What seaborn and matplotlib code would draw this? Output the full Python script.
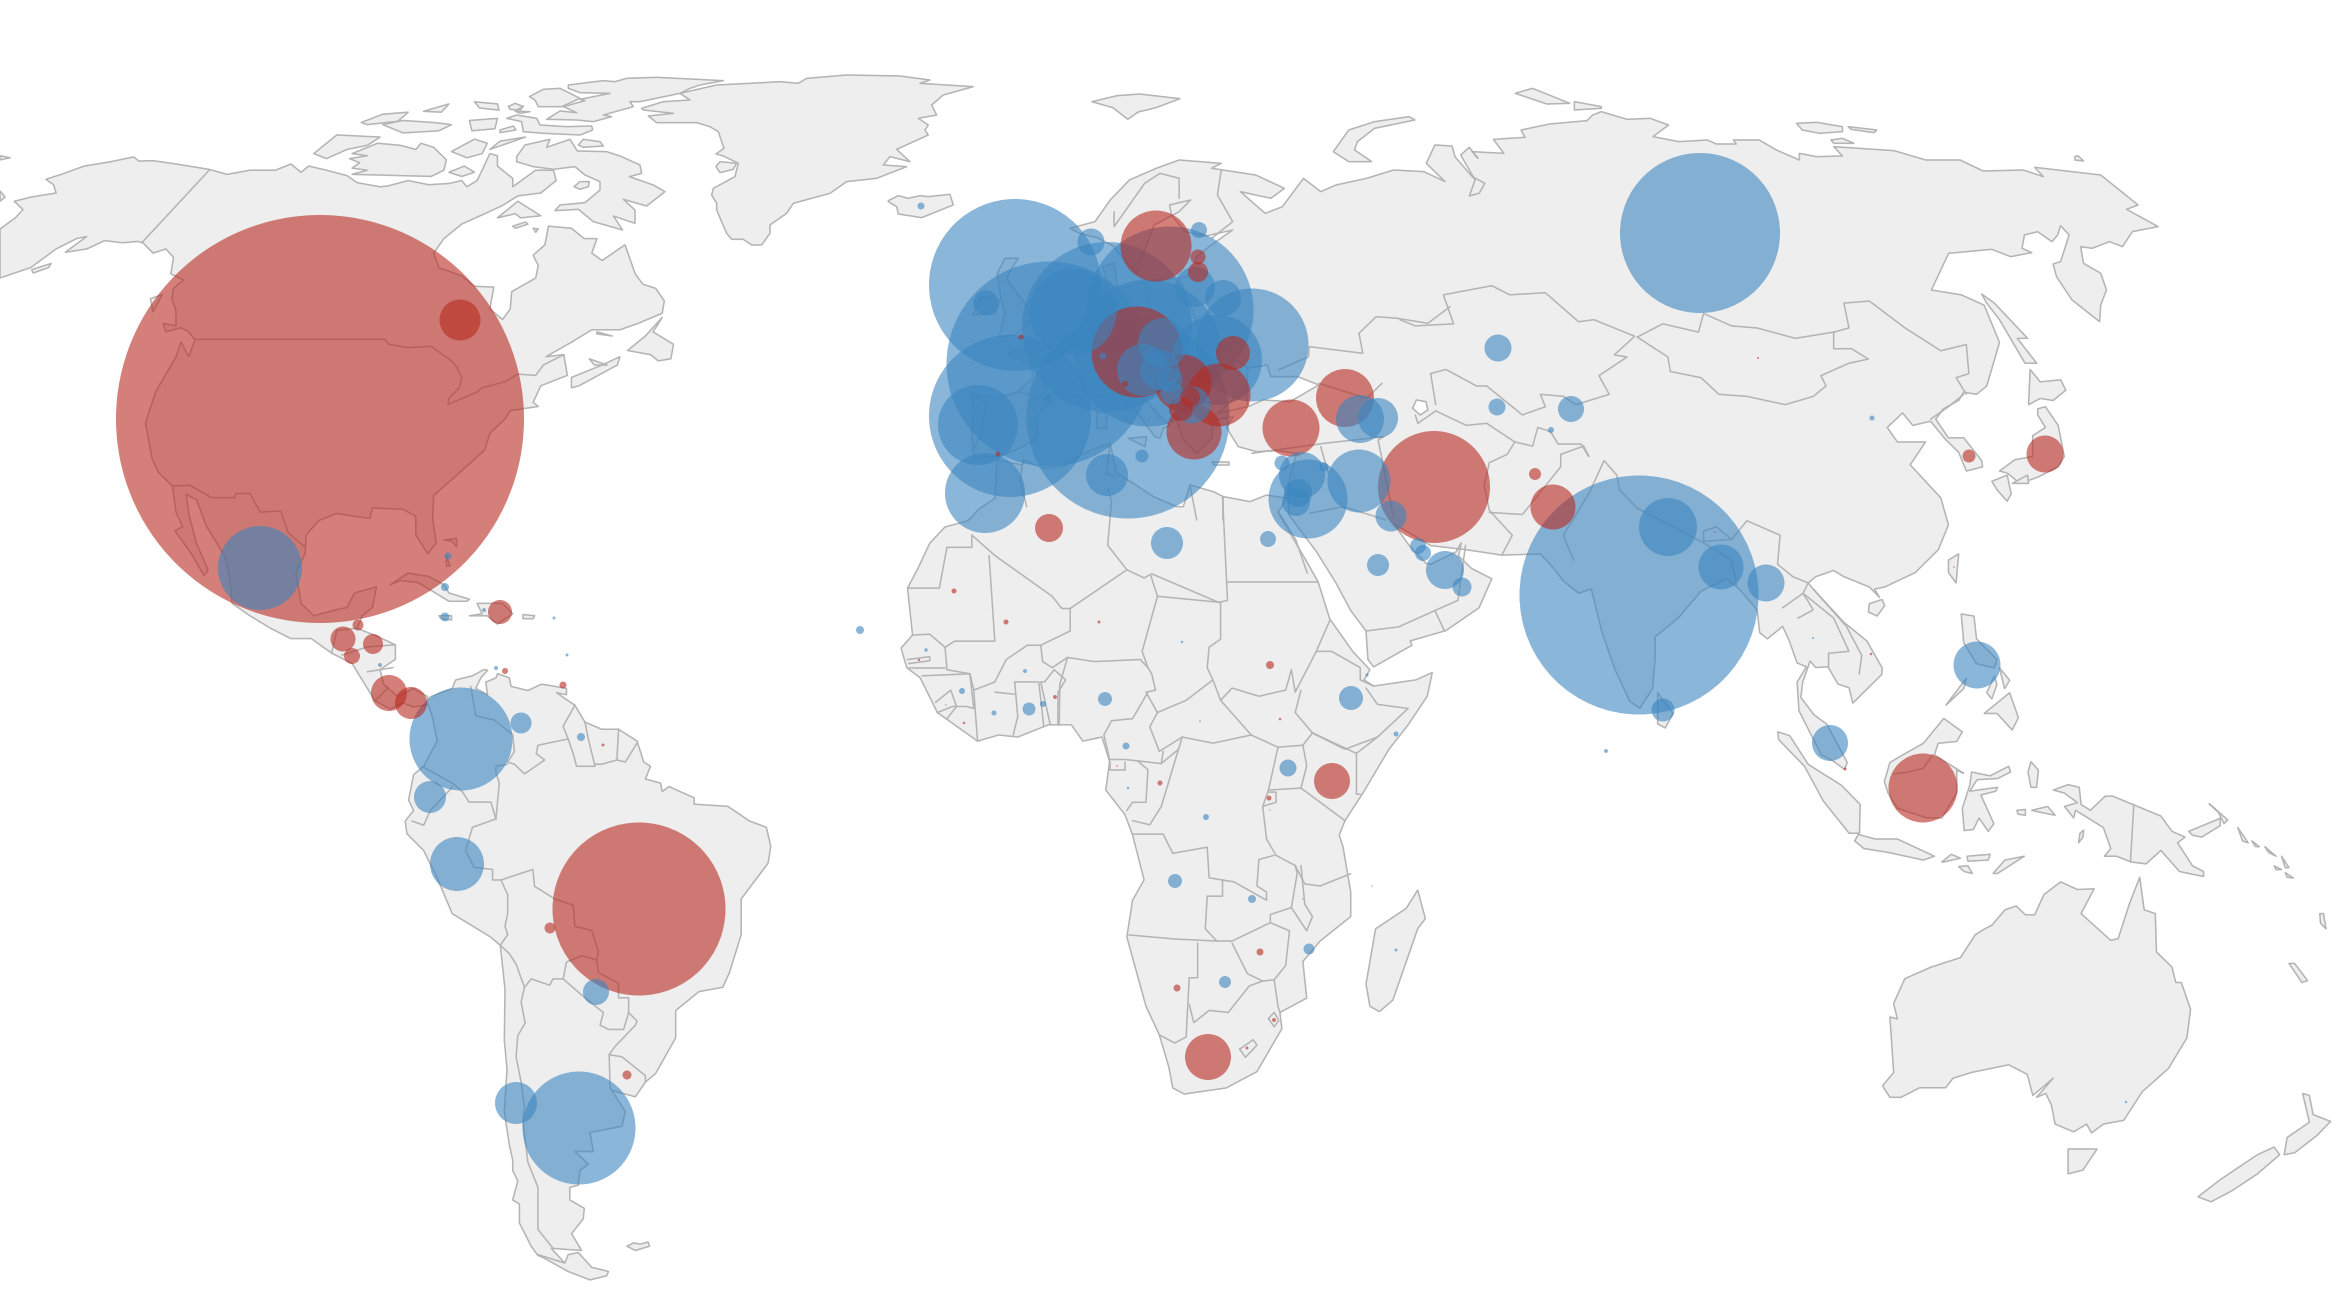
import numpy as np
import pandas as pd
import matplotlib
matplotlib.use('Agg')
import matplotlib.pyplot as plt
import seaborn as sns

# --- bubbles: map x, map y, bubble diameter ---
red_x = [320, 639, 1434, 1923, 1137, 1156, 1291, 1345, 1219, 1183, 1194, 1233, 1553, 2045, 1208, 1049, 1332, 460,
         500, 343, 373, 352, 358, 389, 411, 1181, 1190, 1198, 1198, 550, 627, 1535, 1969, 1270, 505, 563, 954, 1006,
         1099, 919, 1055, 964, 1200, 1280, 1160, 1117, 1269, 1260, 1177, 1274, 1247, 1845, 1871, 1758, 1954, 1715,
         603, 1021, 998, 1125]
red_y = [419, 909, 487, 788, 352, 246, 428, 398, 395, 383, 432, 353, 507, 454, 1057, 528, 781, 320,
         612, 639, 644, 656, 625, 693, 703, 409, 397, 257, 272, 928, 1075, 474, 456, 665, 671, 685, 591, 622,
         622, 660, 697, 723, 721, 719, 783, 766, 798, 952, 988, 1020, 1048, 769, 654, 358, 567, 532,
         745, 337, 454, 384]
red_d = [408, 173, 112, 69, 91, 71, 57, 58, 63, 57, 55, 34, 45, 37, 46, 28, 36, 41,
         24, 25, 20, 16, 11, 36, 32, 24, 20, 15, 20, 11, 9, 12, 13, 8, 6, 7, 5, 5,
         3, 2.5, 4, 2.5, 1.5, 2.5, 5, 1.5, 5, 7, 7, 4, 3, 3, 2.5, 2, 1.5, 1.5,
         3, 5, 5, 6]

blue_x = [1639, 1700, 579, 461, 457, 430, 521, 516, 596, 260, 1015, 1049, 1010, 1128, 1107, 1073, 1170, 1148, 1217,
          1252, 1223, 1195, 1091, 1199, 1163, 1143, 1160, 1192, 1172, 1170, 1103, 978, 985, 986, 921, 1107, 1142,
          1167, 1048, 1308, 1302, 1298, 1296, 1282, 1324, 1359, 1360, 1378, 1391, 1378, 1418, 1423, 1445, 1462,
          1268, 1351, 1288, 1668, 1721, 1766, 1663, 1977, 1830, 1498, 1497, 1571, 1551, 1872, 860, 448, 445, 445,
          484, 554, 380, 496, 567, 581, 926, 962, 1025, 1029, 1043, 994, 946, 1105, 1182, 1126, 1128, 1206, 1270,
          1175, 1252, 1303, 1309, 1225, 1396, 1372, 1396, 1367, 2126, 1813, 1606]
blue_y = [595, 233, 1128, 739, 864, 797, 723, 1103, 992, 568, 285, 364, 416, 417, 327, 312, 310, 353, 360,
          345, 298, 287, 242, 230, 343, 370, 370, 405, 393, 380, 356, 425, 493, 303, 206, 475, 456,
          543, 398, 499, 475, 493, 502, 463, 467, 481, 419, 418, 516, 565, 546, 553, 570, 587,
          539, 698, 768, 527, 567, 583, 710, 665, 743, 348, 407, 409, 430, 418, 630, 556, 587, 617,
          610, 618, 665, 668, 655, 737, 650, 691, 671, 709, 704, 713, 705, 699, 642, 746, 788, 817, 810,
          881, 899, 899, 949, 982, 950, 886, 734, 675, 1102, 638, 751]
blue_d = [239, 160, 113, 103, 54, 32, 21, 42, 26, 84, 172, 205, 162, 203, 170, 87, 167, 147, 90,
          113, 36, 40, 27, 16, 50, 52, 40, 37, 23, 25, 7, 80, 80, 25, 7, 42, 13,
          32, 8, 79, 46, 28, 28, 15, 9, 63, 48, 40, 31, 22, 16, 16, 38, 19,
          16, 24, 17, 58, 45, 37, 23, 47, 36, 27, 17, 26, 6, 5, 8, 7, 8, 9,
          4, 3, 4, 4, 3, 8, 3.5, 6, 4, 13, 6, 5, 1.5, 14, 2.5, 7, 2.5, 6, 1.5,
          14, 8, 1.5, 11, 12, 3, 1.5, 5, 3, 2.5, 2, 4]

# --- land outlines, traced region by region (origin x, origin y, x step, y step) ---
regions = {
    'na': (0, 50, 0.5102, 0.4145),
    'eu': (850, 150, 0.3827, 0.3333),
    'as': (1400, 100, 0.5102, 0.4145),
    'sa': (380, 640, 0.336, 0.421),
    'af': (880, 480, 0.3827, 0.408),
    'oc': (1760, 640, 0.3712, 0.3827),
    'med': (1000, 220, 0.3333, 0.3333),
    'gr': (500, 50, 0.3333, 0.3333),
    'ru': (1300, 60, 0.574, 0.3333),
}

north_america = [(0, 432), (30, 405), (45, 385), (28, 365), (60, 355), (110, 345), (105, 325), (90, 312), (125, 298),
    (165, 280), (215, 270), (262, 258), (272, 268), (300, 267), (345, 275), (410, 288), (445, 300), (490, 290),
    (540, 290), (570, 275), (590, 295), (605, 280), (640, 290), (680, 303), (700, 320), (745, 330), (760, 328),
    (800, 315), (840, 325), (880, 322), (905, 315), (915, 330), (935, 315), (945, 290), (960, 250), (975, 255),
    (975, 280), (990, 295), (1005, 310), (1005, 330), (1050, 290), (1085, 290), (1090, 315), (1060, 345),
    (1015, 352), (985, 375), (950, 395), (905, 420), (870, 455), (850, 490), (860, 525), (905, 545), (930, 570),
    (968, 572), (960, 625), (985, 650), (1000, 625), (1003, 583), (1050, 550), (1055, 520), (1045, 495), (1068, 470),
    (1075, 425), (1120, 430), (1145, 455), (1170, 455), (1160, 490), (1180, 508), (1225, 470), (1245, 540),
    (1260, 565), (1285, 575), (1302, 605), (1298, 635), (1250, 660), (1215, 675), (1160, 675), (1120, 705),
    (1070, 740), (1105, 735), (1112, 785), (1060, 810), (1045, 850), (1055, 860), (1000, 870), (990, 890), (960, 925),
    (950, 965), (905, 1015), (850, 1075), (848, 1130), (855, 1190), (838, 1215), (815, 1170), (815, 1125), (790, 1108),
    (730, 1105), (725, 1130), (695, 1125), (660, 1118), (625, 1135), (600, 1170), (598, 1215), (580, 1260), (590, 1335),
    (615, 1365), (660, 1350), (680, 1345), (695, 1310), (738, 1295), (730, 1345), (710, 1365), (700, 1395), (740, 1415),
    (775, 1435), (775, 1470), (745, 1495), (752, 1530), (780, 1560), (810, 1540), (838, 1560), (837, 1580), (810, 1585),
    (790, 1575), (765, 1590), (735, 1570), (715, 1530), (690, 1480), (650, 1455), (610, 1420), (570, 1420), (530, 1395),
    (490, 1365), (455, 1335), (450, 1270), (440, 1220), (405, 1150), (385, 1085), (365, 1072), (370, 1120), (385, 1190),
    (408, 1255), (400, 1268), (375, 1215), (343, 1160), (358, 1150), (345, 1115), (338, 1052), (310, 1018), (298, 985),
    (285, 900), (305, 825), (345, 740), (355, 705), (370, 740), (382, 700), (370, 680), (355, 670), (325, 680), (320, 660),
    (345, 665), (345, 630), (337, 600), (340, 575), (360, 555), (335, 540), (340, 500), (325, 480), (300, 490), (280, 465),
    (270, 462), (240, 465), (205, 460), (170, 480), (128, 488), (170, 450), (150, 455), (110, 480), (60, 525), (0, 550)]

na_islands = [
    [(295, 600), (318, 590), (300, 632)],
    [(62, 530), (100, 515), (95, 525), (65, 538)],
    [(0, 255), (20, 260), (0, 265)],
    [(0, 340), (10, 355), (0, 365)],
    [(1230, 725), (1265, 690), (1298, 645), (1280, 680), (1320, 710), (1315, 745), (1290, 750), (1275, 735)],
    [(1170, 685), (1200, 690), (1170, 680)],
    [(1120, 815), (1135, 810), (1210, 760), (1215, 740), (1180, 760), (1120, 790)],
    [(1155, 745), (1190, 760), (1165, 760)],
    [(765, 1290), (800, 1262), (840, 1270), (870, 1290), (880, 1310), (920, 1325), (915, 1330), (880, 1330), (860, 1315), (820, 1285), (785, 1280)],
    [(920, 1365), (945, 1360), (935, 1335), (985, 1335), (1005, 1360), (975, 1385), (955, 1365)],
    [(860, 1365), (885, 1365), (885, 1375), (865, 1372)],
    [(1025, 1362), (1048, 1365), (1045, 1372), (1025, 1372)],
    [(870, 1182), (895, 1178), (895, 1198), (885, 1185)],
    [(875, 1220), (882, 1245), (875, 1245)],
    [(1005, 425), (1030, 415), (1035, 420), (1010, 430)],
    [(1045, 430), (1055, 432), (1050, 440)],
    [(975, 405), (1015, 365), (1060, 400), (1020, 405), (1010, 395)],
    [(708, 175), (750, 155), (800, 150), (780, 172), (720, 180)],
    [(750, 180), (790, 170), (850, 175), (885, 180), (860, 195), (790, 200)],
    [(830, 148), (880, 130), (865, 150)],
    [(930, 125), (975, 130), (978, 145), (940, 140)],
    [(920, 170), (975, 165), (970, 190), (925, 195)],
    [(1000, 135), (1025, 135), (1020, 145)],
    [(615, 250), (660, 205), (745, 210), (720, 230), (680, 240), (640, 262)],
    [(690, 250), (740, 225), (785, 230), (815, 240), (825, 225), (850, 235), (875, 265), (870, 290), (845, 305), (690, 300), (720, 290), (690, 285), (705, 272), (685, 262), (720, 255)],
    [(885, 245), (930, 215), (955, 225), (945, 250), (915, 260)],
    [(880, 295), (910, 280), (930, 295), (905, 305)],
    [(960, 240), (1030, 210), (980, 220)],
]
gr_islands = [
    [(425, 175), (490, 155), (570, 150), (540, 130), (650, 105), (790, 98), (840, 95), (895, 100), (920, 85), (1040, 75), (1200, 78), (1290, 90), (1260, 100), (1420, 110), (1330, 135), (1295, 165), (1310, 195), (1255, 205), (1285, 225), (1275, 240), (1285, 255), (1230, 280), (1190, 298), (1230, 335), (1170, 320), (1150, 345), (1220, 350), (1130, 385), (1040, 395), (990, 430), (880, 460), (860, 490), (810, 525), (810, 550), (785, 585), (755, 585), (730, 568), (695, 568), (680, 550), (650, 480), (650, 460), (635, 435), (640, 415), (705, 380), (715, 340), (670, 318), (648, 312), (672, 295), (655, 245), (630, 230), (590, 218), (470, 218), (445, 198), (520, 190), (430, 180)],
    [(648, 350), (660, 335), (710, 340), (700, 358), (660, 368)],
    [(205, 105), (310, 92), (345, 95), (380, 85), (470, 82), (670, 92), (600, 105), (570, 115), (540, 130), (420, 155), (390, 155), (400, 170), (310, 195), (335, 200), (280, 215), (230, 210), (140, 208), (180, 183), (230, 188), (190, 170), (255, 152), (240, 148), (330, 130), (240, 128), (205, 115)],
    [(88, 140), (130, 118), (180, 115), (210, 130), (240, 145), (185, 170), (115, 170), (105, 150)],
    [(25, 170), (45, 160), (70, 170), (50, 180), (30, 178)],
    [(45, 183), (90, 185), (60, 190)],
    [(20, 205), (50, 195), (110, 205), (120, 225), (200, 230), (275, 228), (278, 240), (240, 255), (130, 250), (70, 245), (65, 215)],
    [(0, 240), (40, 228), (48, 240), (0, 248)],
    [(50, 320), (75, 285), (150, 268), (140, 292), (210, 268), (232, 303), (320, 305), (360, 318), (420, 345), (425, 370), (388, 380), (460, 405), (495, 425), (440, 468), (370, 448), (405, 480), (405, 520), (340, 498), (368, 540), (280, 515), (235, 478), (165, 482), (180, 465), (255, 458), (300, 420), (300, 395), (255, 375), (225, 350), (160, 358), (100, 350), (50, 335)],
    [(235, 285), (250, 268), (300, 275), (310, 288), (250, 292)],
    [(222, 410), (240, 395), (268, 395), (265, 410), (240, 418)],
    [(1165, 452), (1195, 437), (1225, 445), (1260, 437), (1285, 440), (1350, 433), (1360, 465), (1265, 503), (1195, 492), (1190, 470), (1165, 455)],
]

eurasia_eu = [(385, 920), (325, 925), (318, 860), (322, 790), (320, 730), (380, 745), (440, 725), (480, 680), (470, 640),
    (415, 610), (470, 590), (520, 600), (545, 565), (590, 540), (640, 490), (645, 430), (680, 420), (660, 350), (690, 340),
    (700, 420), (770, 395), (850, 385), (880, 380), (900, 345), (905, 320), (950, 280), (1000, 240), (930, 258), (875, 245),
    (840, 195), (835, 165), (890, 150), (860, 185), (795, 225), (770, 300), (750, 370), (720, 335), (690, 290), (650, 265),
    (600, 250), (575, 235), (640, 215), (680, 150), (730, 90), (800, 55), (860, 30), (970, 40), (945, 55), (1060, 75),
    (1135, 115), (1100, 145), (1020, 125), (1060, 165), (1085, 190), (1130, 170), (1185, 85), (1230, 125), (1270, 105),
    (1350, 85), (1420, 60), (1500, 65), (1555, 95)]
eurasia_ru = [(220, 310), (235, 255), (265, 258), (270, 290), (300, 350), (322, 370), (312, 400), (295, 408), (305, 360),
    (280, 285), (295, 262), (310, 295), (300, 275), (355, 280), (337, 238), (392, 232), (385, 210), (435, 192), (500, 182),
    (510, 165), (525, 155), (570, 178), (610, 175), (642, 195), (615, 230), (660, 245), (710, 240), (725, 252), (760, 252),
    (755, 240), (800, 240), (830, 270), (870, 300), (870, 280), (900, 290), (945, 288), (930, 260), (1035, 272), (1090, 300),
    (1150, 300), (1190, 333), (1260, 330), (1295, 350), (1280, 322), (1395, 345), (1460, 435), (1440, 448), (1495, 500),
    (1450, 515), (1433, 560), (1410, 545), (1380, 565), (1360, 560), (1365, 610), (1395, 640), (1405, 690), (1395, 735),
    (1393, 785), (1345, 720), (1318, 650), (1312, 612), (1325, 605), (1340, 525), (1325, 497), (1320, 525), (1310, 545),
    (1285, 515), (1262, 525), (1258, 565), (1275, 578), (1238, 590), (1205, 568), (1130, 580), (1100, 690)]
eurasia_as = [(1100, 470), (1145, 495), (1175, 585), (1150, 690), (1130, 710), (1105, 705), (1095, 725), (1065, 745),
    (1050, 770), (1075, 815), (1105, 815), (1140, 870), (1142, 885), (1110, 895), (1095, 850), (1070, 820), (1040, 775),
    (1005, 785), (985, 755), (955, 790), (975, 825), (1030, 825), (1000, 880), (1060, 960), (1075, 1025), (1055, 1085),
    (1010, 1140), (950, 1175), (930, 1180), (940, 1200), (920, 1175), (870, 1150), (850, 1135), (815, 1150), (800, 1165),
    (810, 1180), (870, 1260), (915, 1305), (945, 1370)]
eurasia_oc = [(328, 90), (250, 165), (240, 125), (210, 115), (183, 70), (150, 72), (135, 55), (115, 110), (110, 150),
    (145, 195), (180, 220), (235, 320), (228, 338), (195, 315), (165, 300), (105, 185), (100, 110), (125, 70), (100, 60), (78, 0)]
eurasia_as2 = [(750, 1270), (720, 1300), (705, 1285), (700, 1230), (665, 1180), (640, 1155), (590, 1185), (545, 1250),
    (500, 1295), (500, 1350), (495, 1420), (470, 1468), (450, 1450), (420, 1370), (395, 1280), (375, 1180), (350, 1190),
    (320, 1160), (298, 1125), (275, 1095), (200, 1098), (130, 1085), (60, 1075)]
eurasia_eu2 = [(1420, 1120), (1460, 1185), (1505, 1240)]
eurasia_as3 = [(60, 1120), (110, 1090), (120, 1068), (115, 1100), (140, 1130), (180, 1155), (155, 1225), (90, 1280), (20, 1305)]
eurasia_af = [(1390, 405), (1290, 458), (1275, 440), (1270, 370), (1230, 320), (1190, 250), (1140, 175), (1068, 85)]
eurasia_med = [(865, 830), (870, 770), (890, 700), (830, 692), (770, 695), (715, 680), (690, 640), (680, 620), (700, 590),
    (640, 600), (635, 655), (590, 700), (550, 660), (530, 600), (505, 555), (465, 510), (440, 505), (438, 540), (480, 590),
    (510, 615), (490, 625), (480, 655), (465, 650), (420, 590), (375, 540), (310, 525), (230, 530), (170, 535), (130, 560),
    (110, 600), (115, 650), (70, 680), (20, 700)]

africa_eu = [(385, 930), (450, 945)]
africa_med = [(70, 720), (130, 745), (190, 740), (250, 700), (330, 670), (350, 760), (400, 790), (460, 830), (530, 860),
    (550, 860), (570, 795), (640, 815), (670, 830), (750, 845), (800, 825), (860, 835)]
africa_af = [(1040, 80), (1115, 200), (1145, 250), (1175, 340), (1235, 420), (1280, 465), (1265, 490), (1290, 505),
    (1400, 490), (1443, 472), (1430, 530), (1380, 600), (1330, 660), (1260, 770), (1215, 835), (1200, 870), (1210, 900),
    (1230, 1010), (1230, 1070), (1150, 1130), (1105, 1180), (1115, 1270), (1045, 1305), (1050, 1345), (985, 1450),
    (905, 1490), (795, 1505), (765, 1490), (755, 1440), (730, 1360), (695, 1290), (645, 1120), (660, 1030), (690, 980),
    (660, 870), (640, 820), (590, 760), (600, 690), (580, 630), (530, 640), (500, 600), (440, 600), (360, 630), (310, 625),
    (255, 640), (210, 610), (150, 570), (105, 485), (70, 460), (55, 412), (85, 380), (72, 265), (100, 215), (130, 155),
    (170, 115), (230, 100), (260, 70), (300, 45)]
madagascar = [(1270, 1235), (1295, 1100), (1375, 1050), (1405, 1005), (1425, 1075), (1405, 1100), (1340, 1275), (1305, 1303), (1280, 1290)]

south_america = [(150, 135), (215, 115), (225, 95), (275, 85), (310, 70), (320, 72), (300, 90), (285, 115), (320, 130),
    (315, 100), (345, 90), (350, 80), (385, 90), (390, 110), (440, 120), (480, 105), (520, 110), (555, 115), (555, 130),
    (525, 125), (580, 155), (610, 195), (660, 212), (710, 212), (765, 240), (785, 290), (805, 300), (790, 330), (835, 340),
    (840, 360), (860, 348), (935, 375), (935, 390), (1035, 395), (1100, 430), (1150, 445), (1163, 490), (1155, 530),
    (1075, 615), (1075, 700), (1040, 790), (1020, 825), (950, 835), (880, 880), (880, 945), (820, 1030), (790, 1050),
    (760, 1085), (690, 1070), (730, 1120), (720, 1155), (625, 1170), (635, 1215), (580, 1215), (620, 1245), (595, 1260),
    (590, 1295), (565, 1300), (565, 1330), (608, 1350), (605, 1375), (570, 1410), (600, 1450), (510, 1445), (550, 1480),
    (470, 1462), (450, 1440), (415, 1385), (415, 1340), (395, 1330), (410, 1285), (395, 1260), (395, 1235), (385, 1200),
    (370, 1120), (378, 1020), (370, 950), (372, 830), (358, 725), (328, 705), (215, 650), (170, 565), (130, 500), (80, 460),
    (75, 430), (100, 405), (85, 380), (100, 320), (130, 300), (170, 240), (155, 180), (140, 145)]
sa_islands = [
    [(470, 1460), (550, 1480), (560, 1460), (590, 1455), (630, 1490), (680, 1500), (675, 1510), (625, 1520), (560, 1500)],
    [(735, 1440), (755, 1432), (775, 1435), (798, 1430), (802, 1440), (760, 1450)],
]

as_islands = [
    [(1140, 468), (1165, 490), (1230, 575), (1210, 575), (1248, 635), (1225, 635), (1175, 530), (1150, 490)],
    [(1235, 650), (1255, 680), (1295, 675), (1305, 700), (1280, 725), (1255, 720), (1232, 735)],
    [(1250, 745), (1265, 740), (1290, 785), (1302, 860), (1290, 885), (1250, 910), (1215, 925), (1190, 900), (1175, 895), (1205, 868), (1240, 860), (1240, 810), (1265, 790), (1250, 760)],
    [(1160, 920), (1190, 905), (1198, 950), (1190, 968), (1170, 940)],
    [(1200, 925), (1230, 905), (1232, 925)],
    [(1075, 1110), (1095, 1095), (1090, 1165), (1075, 1140)],
    [(920, 1215), (945, 1205), (950, 1220), (935, 1245), (918, 1235)],
    [(505, 1430), (535, 1480), (520, 1515), (505, 1505)],
    [(1100, 1240), (1125, 1245), (1130, 1300), (1170, 1350), (1165, 1370), (1130, 1360), (1105, 1310)],
    [(1070, 1460), (1110, 1395), (1105, 1420)],
    [(1145, 1480), (1195, 1430), (1212, 1490), (1200, 1520), (1170, 1480)],
    [(1150, 1430), (1165, 1390), (1170, 1410), (1160, 1445)],
    [(1175, 1370), (1195, 1400), (1185, 1420)],
]
ru_islands = [
    [(58, 275), (85, 210), (130, 185), (190, 170), (200, 180), (130, 205), (100, 245), (95, 270), (125, 305), (85, 305)],
    [(375, 100), (405, 85), (470, 130), (430, 132)],
    [(478, 125), (525, 140), (525, 145), (478, 150)],
    [(865, 190), (900, 187), (945, 200), (945, 215), (905, 220), (875, 210)],
    [(955, 200), (1005, 210), (1000, 218), (960, 208)],
    [(925, 240), (945, 235), (965, 250), (930, 250)],
    [(1350, 290), (1355, 287), (1365, 303), (1350, 300)],
]
eu_islands = [
    [(385, 370), (405, 325), (440, 325), (415, 370), (410, 390), (470, 480), (480, 510), (430, 555), (390, 560), (405, 490), (395, 450)],
    [(320, 495), (345, 440), (390, 450), (380, 490)],
    [(945, 935), (990, 935), (990, 945), (950, 945)],
    [(632, -145), (698, -163), (757, -168), (862, -154), (800, -127), (753, -114), (726, -92), (687, -127)],
]
med_islands = [
    [(385, 655), (440, 650), (435, 680)],
    [(290, 575), (320, 580), (320, 625), (290, 625)],
]
oc_islands = [
    [(48, 240), (80, 250), (130, 325), (220, 380), (270, 430), (268, 505), (240, 505), (170, 420), (120, 330), (50, 260)],
    [(255, 525), (265, 508), (310, 520), (370, 520), (470, 565), (440, 575), (345, 555), (280, 545)],
    [(335, 370), (350, 320), (385, 300), (440, 270), (495, 205), (545, 240), (530, 265), (480, 270), (470, 300), (548, 348), (530, 340), (530, 400), (490, 465), (450, 465), (370, 440), (345, 400)],
    [(570, 345), (620, 355), (670, 330), (675, 345), (640, 362), (585, 365), (565, 395), (640, 385), (635, 395), (595, 405), (630, 480), (615, 500), (590, 465), (575, 495), (550, 498), (545, 440), (565, 380)],
    [(722, 345), (730, 318), (750, 340), (745, 385), (730, 385)],
    [(628, 610), (660, 575), (712, 565), (640, 610)],
    [(490, 580), (515, 560), (540, 570), (495, 580)],
    [(558, 565), (620, 560), (615, 575), (560, 578)],
    [(535, 592), (560, 590), (572, 610), (550, 605)],
    [(732, 445), (775, 435), (795, 458), (745, 448)],
    [(692, 445), (715, 443), (715, 458), (695, 455)],
    [(858, 530), (862, 505), (872, 497), (870, 515)],
    [(790, 392), (830, 378), (860, 385), (865, 430), (890, 445), (930, 408), (950, 408), (1005, 430), (1080, 460), (1110, 500), (1145, 515), (1125, 530), (1165, 590), (1195, 605), (1195, 618), (1130, 605), (1080, 550), (1040, 585), (1000, 580), (960, 565), (928, 565), (945, 545), (925, 490), (850, 445), (845, 465), (820, 435), (855, 425), (820, 400)],
    [(1155, 500), (1230, 470), (1240, 465), (1240, 485), (1190, 515), (1165, 510)],
    [(1210, 428), (1260, 470), (1250, 480), (1235, 450)],
    [(1287, 490), (1315, 530), (1300, 525)],
    [(1325, 525), (1345, 540), (1335, 540)],
    [(1360, 540), (1390, 565), (1370, 555)],
    [(1405, 565), (1425, 595), (1415, 595)],
    [(1385, 590), (1405, 600), (1390, 600)],
    [(1415, 608), (1437, 622), (1420, 620)],
    [(1508, 715), (1518, 715), (1525, 755), (1510, 740)],
    [(1425, 845), (1440, 845), (1475, 890), (1460, 895)],
    [(330, 1165), (360, 1130), (350, 985), (370, 990), (360, 950), (390, 885), (460, 855), (540, 830), (580, 770), (605, 755), (625, 745), (660, 705), (690, 695), (715, 718), (740, 718), (765, 665), (810, 632), (855, 652), (900, 650), (865, 715), (945, 785), (965, 780), (995, 690), (1023, 620), (1035, 705), (1065, 715), (1068, 815), (1110, 855), (1120, 895), (1135, 895), (1160, 965), (1150, 1040), (1100, 1120), (1030, 1180), (980, 1255), (925, 1265), (893, 1288), (880, 1265), (845, 1285), (795, 1265), (785, 1215), (770, 1185), (745, 1195), (790, 1145), (735, 1190), (720, 1135), (670, 1110), (570, 1130), (520, 1145), (500, 1170), (430, 1170), (380, 1195), (350, 1195)],
    [(830, 1330), (908, 1330), (870, 1385), (830, 1395)],
    [(1412, 1345), (1420, 1300), (1480, 1260), (1462, 1185), (1480, 1190), (1490, 1240), (1537, 1258), (1500, 1295), (1440, 1340)],
    [(1180, 1455), (1240, 1410), (1340, 1345), (1385, 1325), (1400, 1345), (1340, 1395), (1270, 1440), (1215, 1468)],
]
# inland seas painted back on top of the land
black_sea = [(1040, 770), (1035, 720), (1040, 655), (1090, 645), (1100, 680), (1170, 680), (1225, 705), (1150, 755), (1080, 750)]
caspian = [(1480, 750), (1470, 775), (1490, 795), (1510, 780), (1505, 755)]

# --- country borders ---
na_borders = [
    [(410, 290), (278, 465)],
    [(382, 698), (755, 698), (762, 710), (800, 718), (845, 715), (885, 750), (895, 765), (905, 790), (900, 815), (880, 840), (878, 855), (935, 825), (945, 815), (990, 800), (1015, 782), (1050, 785), (1065, 760), (1105, 735)],
    [(338, 1052), (372, 1050), (415, 1080), (460, 1080), (462, 1070), (490, 1070), (510, 1115), (550, 1112), (565, 1165), (598, 1200)],
    [(650, 1455), (660, 1400), (700, 1395)],
    [(670, 1460), (720, 1440), (775, 1435)],
    [(720, 1500), (770, 1490)],
    [(760, 1540), (735, 1570)],
]
sa_borders = [
    [(270, 110), (285, 180), (340, 190), (395, 225), (400, 265), (380, 290), (400, 295), (430, 318), (490, 285), (465, 270), (470, 250), (560, 235), (545, 205), (580, 155)],
    [(380, 295), (345, 300), (345, 315), (355, 340), (345, 425), (275, 445), (255, 500), (280, 540), (335, 545), (335, 570), (360, 570), (455, 545), (460, 585), (520, 615), (575, 630), (580, 680), (630, 690), (650, 740), (645, 760), (650, 790), (710, 815), (710, 850), (740, 850), (740, 885), (765, 905), (760, 915), (700, 965), (682, 985), (685, 1065), (690, 1070)],
    [(125, 300), (215, 340), (245, 360), (265, 385), (330, 385), (345, 425)],
    [(95, 430), (130, 440), (150, 405), (215, 350)],
    [(360, 570), (380, 605), (380, 650), (372, 680), (380, 700), (358, 725), (385, 745), (405, 770), (430, 825), (450, 805), (505, 820), (515, 805), (545, 805), (555, 765), (600, 750), (645, 760)],
    [(545, 805), (610, 850), (665, 885), (655, 915), (680, 925), (725, 925), (740, 885)],
    [(682, 985), (720, 990), (790, 1035), (790, 1050)],
    [(430, 825), (420, 860), (432, 910), (410, 940), (405, 990), (420, 1050), (430, 1110), (425, 1140), (440, 1240), (470, 1300), (470, 1400), (515, 1445)],
    [(560, 235), (575, 270), (585, 300), (640, 300), (620, 235), (610, 195)],
    [(640, 295), (660, 295), (705, 285), (710, 212)],
    [(705, 285), (730, 290), (765, 245)],
]
af_borders = [
    [(240, 135), (240, 165), (175, 165), (155, 265), (72, 265)],
    [(240, 135), (300, 185), (450, 285), (475, 315), (497, 315), (645, 220), (595, 160), (605, 50), (595, 20)],
    [(645, 220), (690, 240), (710, 230), (885, 300), (908, 295), (895, 40)],
    [(908, 250), (1145, 250)],
    [(497, 315), (497, 370), (420, 405), (425, 445), (450, 460), (490, 435), (560, 445), (680, 440), (700, 460), (685, 420), (725, 285), (708, 235)],
    [(285, 185), (300, 395), (195, 395), (170, 410), (130, 378), (85, 380)],
    [(420, 405), (385, 405), (330, 440), (300, 495), (245, 515), (235, 475), (175, 465), (170, 410)],
    [(725, 285), (890, 300), (890, 390), (860, 410), (855, 460), (870, 490), (800, 540), (725, 570), (695, 520), (720, 515), (710, 475), (700, 460)],
    [(870, 490), (890, 540), (920, 510), (990, 530), (1060, 515), (1075, 465), (1085, 520), (1140, 420), (1175, 345)],
    [(1140, 420), (1180, 420), (1255, 460), (1255, 490), (1290, 505)],
    [(1100, 515), (1085, 570), (1130, 620), (1215, 660), (1300, 630), (1380, 560), (1300, 550), (1270, 510)],
    [(890, 540), (970, 625), (1040, 655), (1105, 650), (1130, 620)],
    [(725, 570), (705, 605), (730, 665), (790, 630), (870, 645), (970, 625)],
    [(700, 520), (660, 585), (605, 590), (585, 625), (600, 685), (640, 685), (735, 695), (740, 665)],
    [(490, 435), (470, 500), (468, 600)],
    [(465, 600), (465, 520), (485, 490), (455, 465), (430, 495), (420, 495), (445, 600)],
    [(352, 495), (415, 495), (428, 605)],
    [(352, 495), (360, 580), (348, 625)],
    [(245, 515), (250, 580), (255, 640)],
    [(300, 520), (352, 525)],
    [(110, 480), (235, 475), (245, 560), (225, 555), (190, 555), (150, 570)],
    [(145, 545), (185, 515), (200, 555), (175, 585)],
    [(75, 460), (170, 460)],
    [(72, 440), (130, 433), (130, 443), (75, 450)],
    [(640, 712), (600, 712), (600, 690)],
    [(640, 690), (640, 712)],
    [(675, 690), (700, 710), (695, 790), (660, 790), (645, 810)],
    [(735, 695), (780, 660), (735, 800), (705, 845), (660, 835)],
    [(780, 660), (790, 630)],
    [(1040, 655), (1015, 760), (1000, 800), (1010, 880), (1035, 920), (1085, 945)],
    [(660, 868), (740, 868), (765, 915), (855, 900), (860, 975), (925, 985), (1010, 1030), (1010, 1010), (985, 995), (990, 930), (1030, 920)],
    [(1105, 650), (1115, 700), (1100, 755), (1015, 760)],
    [(1100, 755), (1215, 835)],
    [(1130, 620), (1245, 670), (1245, 770), (1255, 770)],
    [(1245, 670), (1300, 630)],
    [(1015, 765), (1035, 765), (1035, 790), (1000, 800)],
    [(1085, 945), (1110, 990), (1150, 995), (1230, 965)],
    [(895, 980), (895, 1020), (855, 1020), (850, 1100), (880, 1130), (770, 1125), (650, 1115)],
    [(880, 1130), (920, 1130), (1020, 1085), (1020, 1065), (1075, 1048), (1090, 965), (1085, 945)],
    [(1100, 945), (1110, 1040), (1130, 1070), (1115, 1105), (1075, 1048)],
    [(1020, 1085), (1070, 1105), (1060, 1190), (1030, 1225), (1040, 1290), (1045, 1305)],
    [(920, 1135), (960, 1210), (1000, 1228), (1030, 1225)],
    [(830, 1135), (830, 1220), (808, 1220), (800, 1365), (770, 1380), (730, 1360)],
    [(808, 1285), (820, 1330), (860, 1300), (910, 1305), (965, 1240), (1000, 1228)],
    [(940, 1395), (975, 1372), (985, 1385), (955, 1415), (940, 1395)],
    [(1015, 1320), (1030, 1305), (1042, 1325), (1030, 1340), (1015, 1320)],
    [(1270, 370), (1355, 360), (1450, 320), (1475, 370)],
    [(1450, 320), (1510, 295), (1530, 160)],
]
as_borders = [
    [(0, 530), (30, 545), (105, 540), (85, 470), (180, 448), (215, 470), (285, 465), (350, 535), (380, 530), (460, 570), (420, 615), (445, 620), (390, 665), (410, 710), (345, 735), (320, 715), (275, 710), (285, 740), (250, 755), (240, 760), (170, 690), (150, 690), (90, 650), (60, 660), (70, 735)],
    [(465, 572), (515, 540), (585, 560), (595, 515), (650, 545), (700, 550), (775, 575), (850, 560), (850, 600), (885, 600), (918, 625), (880, 635), (825, 665), (835, 690), (810, 715), (755, 735), (680, 715), (625, 710), (590, 670), (530, 655), (525, 620), (465, 572)],
    [(850, 560), (880, 550), (870, 490), (920, 485), (990, 550), (1060, 605), (1110, 590), (1115, 660), (1090, 670), (1110, 710)],
    [(1040, 770), (1075, 740), (1105, 710)],
    [(30, 760), (35, 780), (70, 750), (130, 785), (170, 780), (225, 825), (210, 855), (175, 875), (165, 930), (175, 990), (220, 1050), (200, 1097)],
    [(175, 995), (240, 1000), (315, 885), (315, 855), (360, 835)],
    [(225, 825), (260, 835), (270, 790), (295, 800), (310, 830), (355, 830), (370, 860), (360, 835)],
    [(340, 1110), (320, 1050), (370, 950), (400, 870), (425, 905), (430, 940), (465, 985), (590, 1065), (650, 1110), (660, 1175)],
    [(595, 1040), (620, 1030), (650, 1060), (595, 1065), (595, 1040)],
    [(650, 1060), (680, 1015), (745, 1050), (740, 1120), (770, 1150), (800, 1165), (790, 1190), (810, 1230), (780, 1250)],
    [(810, 1180), (875, 1270), (905, 1340), (900, 1385)],
    [(750, 1225), (790, 1190), (850, 1250), (880, 1330), (840, 1335), (840, 1370)],
]
eu_borders = [
    [(320, 730), (355, 760), (340, 860), (320, 900)],
    [(440, 725), (530, 755)],
    [(590, 530), (640, 620), (640, 640), (770, 650)],
    [(770, 395), (790, 510)],
    [(860, 385), (905, 510), (905, 530)],
    [(690, 185), (690, 230), (770, 100), (810, 70), (860, 85), (860, 145)],
    [(970, 60), (960, 135), (1000, 215), (945, 265)],
    [(1050, 910), (1240, 880), (1395, 860), (1380, 870), (1420, 1100)],
    [(1200, 1090), (1290, 1070), (1400, 1110)],
    [(1250, 970), (1230, 890)],
    [(1225, 700), (1350, 745), (1390, 700)],
    [(1330, 550), (1375, 500), (1430, 505), (1510, 520), (1568, 470)],
    [(1330, 550), (1340, 610), (1200, 590), (1198, 620), (1120, 660)],
    [(1040, 770), (960, 790), (1030, 720)],
    [(905, 530), (1040, 655)],
    [(1122, 1090), (1165, 1170), (1195, 1270)],
]
med_borders = [
    [(70, 720), (60, 780), (80, 860)],
    [(330, 670), (320, 760), (345, 770)],
    [(570, 795), (590, 900)],
    [(670, 830), (670, 900)],
]
oc_borders = [
    [(1007, 430), (998, 580)],
    [(360, 350), (400, 345), (440, 335), (465, 300)],
]


def to_map(points, region):
    x0, y0, sx, sy = regions[region]
    pts = np.array(points, dtype=float)
    return np.column_stack([x0 + pts[:, 0] * sx, y0 + pts[:, 1] * sy])


eurasia = np.vstack([to_map(eurasia_eu, 'eu'), to_map(eurasia_ru, 'ru'), to_map(eurasia_as, 'as'),
                     to_map(eurasia_oc, 'oc'), to_map(eurasia_as2, 'as'), to_map(eurasia_eu2, 'eu'),
                     to_map(eurasia_as3, 'as'), to_map(eurasia_af, 'af'), to_map(eurasia_med, 'med')])
africa = np.vstack([to_map(africa_eu, 'eu'), to_map(africa_med, 'med'), to_map(africa_af, 'af')])

land = [to_map(north_america, 'na'), to_map(south_america, 'sa'), eurasia, africa, to_map(madagascar, 'af')]
for group, region in [(na_islands, 'na'), (gr_islands, 'gr'), (sa_islands, 'sa'), (as_islands, 'as'),
                      (ru_islands, 'ru'), (eu_islands, 'eu'), (med_islands, 'med'), (oc_islands, 'oc')]:
    land += [to_map(p, region) for p in group]

borders = []
for group, region in [(na_borders, 'na'), (sa_borders, 'sa'), (af_borders, 'af'), (as_borders, 'as'),
                      (eu_borders, 'eu'), (med_borders, 'med'), (oc_borders, 'oc')]:
    borders += [to_map(p, region) for p in group]

# biggest bubbles go down first so the small ones stay visible
df = pd.DataFrame({
    'x': red_x + blue_x,
    'y': red_y + blue_y,
    'diameter': red_d + blue_d,
    'side': ['red'] * len(red_x) + ['blue'] * len(blue_x),
})
df['area'] = df['diameter'] ** 2
df = df.sort_values('diameter', ascending=False)

sns.set_style('white')
fig = plt.figure(figsize=(23.42, 13), dpi=100)
ax = fig.add_axes([0, 0, 1, 1])

LAND = '#eeeeee'
EDGE = '#b4b4b4'
for poly in land:
    ax.fill(poly[:, 0], poly[:, 1], facecolor=LAND, edgecolor=EDGE, linewidth=1.1, joinstyle='round', zorder=1)
for line in borders:
    ax.plot(line[:, 0], line[:, 1], color=EDGE, linewidth=1.1, solid_joinstyle='round', zorder=1.5)
for sea in [black_sea, caspian]:
    poly = to_map(sea, 'eu')
    ax.fill(poly[:, 0], poly[:, 1], facecolor='white', edgecolor=EDGE, linewidth=1.1, zorder=1.6)

# one map unit is one output pixel, so area * 0.72^2 is the marker size in points^2
max_area = df['area'].max()
sns.scatterplot(data=df, x='x', y='y', hue='side', size='area',
                palette={'red': '#b82a20', 'blue': '#3b86c0'},
                sizes=(0, 0.5184 * max_area), size_norm=(0, max_area),
                alpha=0.6, linewidth=0, legend=False, zorder=3, ax=ax)

ax.set_xlim(0, 2342)
ax.set_ylim(1300, 0)
ax.axis('off')
plt.savefig('out.png', dpi=100)
